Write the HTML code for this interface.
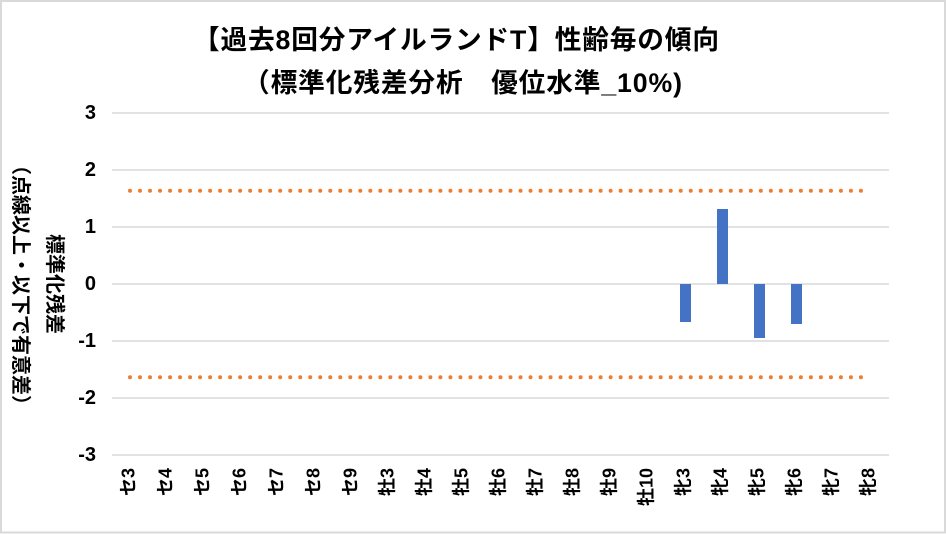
<!DOCTYPE html>
<html>
<head>
<meta charset="utf-8">
<style>
  html,body{margin:0;padding:0;background:#fff;}
  svg{display:block;}
  .t{font-family:"Liberation Sans","Noto Sans CJK JP",sans-serif;font-weight:bold;fill:#000;}
</style>
</head>
<body>
<svg width="946" height="534" viewBox="0 0 946 534" xmlns="http://www.w3.org/2000/svg">
  <rect x="0" y="0" width="946" height="534" fill="#fff"/>
  <rect x="1" y="1" width="944" height="531.5" fill="none" stroke="#d9d9d9" stroke-width="2"/>

  <!-- Title -->
  <text class="t" x="193" y="49" font-size="26.7" textLength="526" lengthAdjust="spacing">【過去8回分アイルランドT】性齢毎の傾向</text>
  <text class="t" x="243" y="92" font-size="26.7" textLength="439" lengthAdjust="spacing">（標準化残差分析　優位水準_10%)</text>

  <!-- gridlines -->
  <g stroke="#d9d9d9" stroke-width="1.5">
    <line x1="112" y1="113" x2="889" y2="113"/>
    <line x1="112" y1="170" x2="889" y2="170"/>
    <line x1="112" y1="227" x2="889" y2="227"/>
    <line x1="112" y1="284" x2="889" y2="284"/>
    <line x1="112" y1="341" x2="889" y2="341"/>
    <line x1="112" y1="398" x2="889" y2="398"/>
    <line x1="112" y1="455" x2="889" y2="455"/>
  </g>

  <!-- y tick labels -->
  <g class="t" font-size="20" text-anchor="end">
    <text x="96" y="119">3</text>
    <text x="96" y="176">2</text>
    <text x="96" y="233">1</text>
    <text x="96" y="290">0</text>
    <text x="96" y="347">-1</text>
    <text x="96" y="404">-2</text>
    <text x="96" y="461">-3</text>
  </g>

  <!-- y axis title -->
  <text class="t" font-size="20" text-anchor="middle" transform="translate(48,284) rotate(90)">標準化残差</text>
  <text class="t" font-size="20" text-anchor="middle" transform="translate(14,285) rotate(90)">（点線以上・以下で有意差）</text>

  <!-- bars -->
  <g fill="#4472C4">
    <rect x="680" y="284" width="11" height="38"/>
    <rect x="717" y="209" width="11" height="75"/>
    <rect x="754" y="284" width="11" height="54"/>
    <rect x="791" y="284" width="11" height="40"/>
  </g>

  <!-- dotted threshold lines -->
  <line x1="130" y1="190.7" x2="861" y2="190.7" stroke="#ED7D31" stroke-width="4" stroke-linecap="round" stroke-dasharray="0 10.013"/>
  <line x1="130" y1="377.3" x2="861" y2="377.3" stroke="#ED7D31" stroke-width="4" stroke-linecap="round" stroke-dasharray="0 10.013"/>

  <!-- x labels -->
  <g class="t" font-size="18" text-anchor="end">
    <text transform="translate(134.5,468) rotate(-90)">セ3</text>
    <text transform="translate(171.5,468) rotate(-90)">セ4</text>
    <text transform="translate(208.5,468) rotate(-90)">セ5</text>
    <text transform="translate(245.5,468) rotate(-90)">セ6</text>
    <text transform="translate(282.5,468) rotate(-90)">セ7</text>
    <text transform="translate(319.5,468) rotate(-90)">セ8</text>
    <text transform="translate(356.5,468) rotate(-90)">セ9</text>
    <text transform="translate(393.5,468) rotate(-90)">牡3</text>
    <text transform="translate(430.5,468) rotate(-90)">牡4</text>
    <text transform="translate(467.5,468) rotate(-90)">牡5</text>
    <text transform="translate(504.5,468) rotate(-90)">牡6</text>
    <text transform="translate(541.5,468) rotate(-90)">牡7</text>
    <text transform="translate(578.5,468) rotate(-90)">牡8</text>
    <text transform="translate(615.5,468) rotate(-90)">牡9</text>
    <text transform="translate(652.5,468) rotate(-90)">牡10</text>
    <text transform="translate(689.5,468) rotate(-90)">牝3</text>
    <text transform="translate(726.5,468) rotate(-90)">牝4</text>
    <text transform="translate(763.5,468) rotate(-90)">牝5</text>
    <text transform="translate(800.5,468) rotate(-90)">牝6</text>
    <text transform="translate(837.5,468) rotate(-90)">牝7</text>
    <text transform="translate(874.5,468) rotate(-90)">牝8</text>
  </g>
</svg>
</body>
</html>
